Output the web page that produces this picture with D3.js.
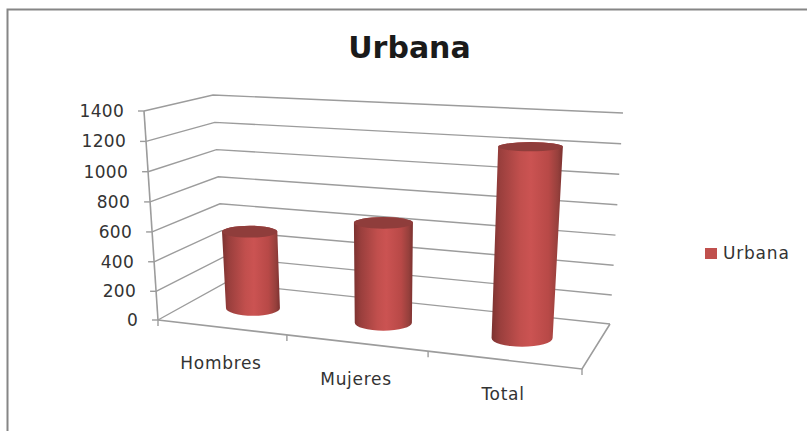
<!DOCTYPE html>
<html><head><meta charset="utf-8">
<style>html,body{margin:0;padding:0;background:#fff}svg{display:block}text{font-family:"DejaVu Sans",sans-serif;fill:#333}</style>
<script src="https://cdn.jsdelivr.net/npm/d3@7"></script></head><body>
<svg id="c" width="807" height="431"></svg>
<script>
const title = "Urbana";
const categories = ["Hombres","Mujeres","Total"];
const values = [540,675,1230];
const yTicks = [0,200,400,600,800,1000,1200,1400];

const svg = d3.select("#c");
const defs = svg.append("defs");
const g = defs.append("linearGradient").attr("id","cyl");
[[0,"#7c3230"],[.12,"#9a3f3d"],[.4,"#c14f4d"],[.55,"#cb5352"],[.8,"#b84947"],[.93,"#96403c"],[1,"#7c3130"]].forEach(s=>g.append("stop").attr("offset",s[0]).attr("stop-color",s[1]));

// 3D box corners
const FL0=[158,320],FL1=[144,111],BL0=[225,283],BL1=[213,95],BR0=[610,324],BR1=[623,113],FR0=[582,369],FR1=[598,134];
const frac = d3.scalePow().exponent(1.02).domain([0,1400]).range([0,1]);
const warpF = d3.scaleLinear().domain([0,1/3,2/3,1]).range([0,.304,.637,1]);
const warpB = d3.scaleLinear().domain([0,1/3,2/3,1]).range([0,.323,.654,1]);
const lerp=(a,b,t)=>[a[0]+(b[0]-a[0])*t,a[1]+(b[1]-a[1])*t];
function P(u,d,v){
  const a=frac(v),u1=warpF(u),u2=warpB(u);
  const f=lerp(lerp(FL0,FR0,u1),lerp(FL1,FR1,u1),a);
  const b=lerp(lerp(BL0,BR0,u2),lerp(BL1,BR1,u2),a);
  return lerp(f,b,d);
}
const line=d3.line();
const band=d3.scaleBand().domain(categories).range([0,1]);
const grid="#9c9c9c";

// chart border
svg.append("path").attr("d","M7.5,431V9.5H807").attr("fill","none").attr("stroke","#868686").attr("stroke-width",2);

svg.append("text").attr("x",409.5).attr("y",58).attr("text-anchor","middle").attr("font-size",30).attr("font-weight","bold").style("fill","#1a1a1a").text(title);

// gridlines
yTicks.forEach(t=>{
  svg.append("path").attr("d",line([P(0,0,t),P(0,1,t),P(1,1,t)])).attr("fill","none").attr("stroke",grid).attr("stroke-width",1.4);
  const p=P(0,0,t);
  svg.append("path").attr("d",line([[p[0]-6,p[1]],p])).attr("stroke",grid).attr("stroke-width",1.4);
  svg.append("text").attr("x",p[0]-20).attr("y",p[1]+6).attr("text-anchor","end").attr("font-size",17).attr("letter-spacing",.3).text(t);
});
// axes
svg.append("path").attr("d",line([P(0,0,0),P(0,0,1400)])).attr("fill","none").attr("stroke",grid).attr("stroke-width",1.6);
svg.append("path").attr("d",line([P(0,0,0),P(1,0,0),P(1,1,0)])).attr("fill","none").attr("stroke",grid).attr("stroke-width",1.6);
[0,1/3,2/3,1].forEach(u=>{const p=P(u,0,0);svg.append("path").attr("d",line([p,[p[0],p[1]+6]])).attr("stroke",grid).attr("stroke-width",1.4);});

// cylinders
const ru=.071, rd=.2, depth=.51;
function geom(c,v){
  const u=band(c)+band.bandwidth()/2;
  const m=P(u,depth,v),l=P(u-ru,depth,v),r=P(u+ru,depth,v),a=P(u,depth-rd,v),b=P(u,depth+rd,v);
  return {cx:m[0]-2.5,cy:m[1],rx:(r[0]-l[0])/2,ry:Math.abs(a[1]-b[1])/2};
}
const bars=svg.selectAll("g.bar").data(categories.map((c,i)=>({c,v:values[i]}))).join("g").attr("class","bar");
bars.append("path").attr("fill","url(#cyl)").attr("d",d=>{
  const t=geom(d.c,d.v),b=geom(d.c,0);
  return `M${t.cx-t.rx},${t.cy}L${b.cx-b.rx},${b.cy}A${b.rx},${b.ry} 0 0 0 ${b.cx+b.rx},${b.cy}L${t.cx+t.rx},${t.cy}A${t.rx},${t.ry} 0 0 0 ${t.cx-t.rx},${t.cy}Z`;
});
bars.append("ellipse").attr("fill","#8f3d3b")
  .attr("cx",d=>geom(d.c,d.v).cx).attr("cy",d=>geom(d.c,d.v).cy)
  .attr("rx",d=>geom(d.c,d.v).rx).attr("ry",d=>geom(d.c,d.v).ry);

// category labels
const labelPos={Hombres:[221,369],Mujeres:[356,385],Total:[503,400]};
categories.forEach(c=>svg.append("text").attr("x",labelPos[c][0]).attr("y",labelPos[c][1]).attr("text-anchor","middle").attr("font-size",17).attr("letter-spacing",.7).text(c));

// legend
svg.append("rect").attr("x",705).attr("y",248).attr("width",12).attr("height",11).attr("fill","#c0504d");
svg.append("text").attr("x",723).attr("y",259).attr("font-size",17).attr("letter-spacing",.8).text(title);
</script></body></html>
